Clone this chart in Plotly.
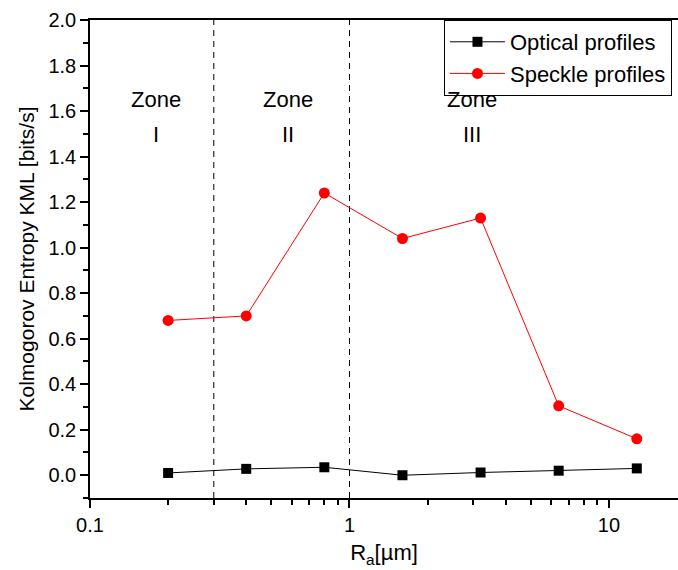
import math
import plotly.graph_objects as go

# Roughness values (µm) and Kolmogorov entropy for each profile type
ra_um = [0.2, 0.4, 0.8, 1.6, 3.2, 6.4, 12.8]
optical_kml = [0.01, 0.028, 0.035, 0.0, 0.012, 0.02, 0.03]
speckle_kml = [0.68, 0.70, 1.24, 1.04, 1.13, 0.305, 0.16]

# Zone boundaries (µm)
zone_bounds = [0.3, 1.0]
zone_names = ["I", "II", "III"]
zone_centers = [0.179, 0.582, 2.97]

y_ticks = [round(0.2 * i, 1) for i in range(11)]
x_ticks = [0.1, 1, 10]
x_ticktext = ["0.1", "1", "10"]

FONT = "Liberation Sans, Arial, sans-serif"

fig = go.Figure()

for xb in zone_bounds:
    fig.add_trace(go.Scatter(
        x=[xb, xb], y=[-0.1, 2.0], mode="lines",
        line=dict(color="black", width=1, dash="6px,5px"),
        showlegend=False, hoverinfo="skip",
    ))

fig.add_trace(go.Scatter(
    x=ra_um, y=optical_kml, mode="lines+markers", name="Optical profiles",
    line=dict(color="black", width=1),
    marker=dict(symbol="square", size=10, color="black"),
))
fig.add_trace(go.Scatter(
    x=ra_um, y=speckle_kml, mode="lines+markers", name="Speckle profiles",
    line=dict(color="red", width=1),
    marker=dict(symbol="circle", size=11, color="red"),
))

# Minor tick positions on the log axis
x_minor = [m * 10 ** e for e in (-1, 0, 1) for m in range(2, 10) if m * 10 ** e < 18.6]
y_minor = [round(0.1 + 0.2 * i, 1) for i in range(-1, 10)]

annotations = []
for name, xc in zip(zone_names, zone_centers):
    annotations.append(dict(x=math.log10(xc), y=1.651, xref="x", yref="y",
                            text="Zone", showarrow=False,
                            font=dict(family=FONT, size=22, color="black")))
    annotations.append(dict(x=math.log10(xc), y=1.497, xref="x", yref="y",
                            text=name, showarrow=False,
                            font=dict(family=FONT, size=22, color="black")))

fig.update_layout(
    width=678, height=570,
    margin=dict(l=90, r=0, t=20, b=72),
    paper_bgcolor="white", plot_bgcolor="white",
    font=dict(family=FONT, size=20, color="black"),
    showlegend=True,
    legend=dict(
        x=0.602, y=1.0, xanchor="left", yanchor="top",
        bordercolor="black", borderwidth=1, bgcolor="white",
        font=dict(family=FONT, size=22, color="black"),
        tracegroupgap=0, itemwidth=55,
    ),
    annotations=annotations,
    xaxis=dict(
        type="log", range=[-1, 1.266],
        tickvals=x_ticks, ticktext=x_ticktext,
        ticks="outside", ticklen=8, tickwidth=1.5, tickcolor="black",
        minor=dict(tickvals=x_minor, ticks="outside", ticklen=5,
                   tickwidth=1.5, tickcolor="black", showgrid=False),
        showline=True, linecolor="black", linewidth=1.5, mirror=True,
        showgrid=False, zeroline=False,
        tickfont=dict(family=FONT, size=20),
        title=dict(text="R<sub>a</sub>[µm]", standoff=10,
                   font=dict(family=FONT, size=22)),
    ),
    yaxis=dict(
        range=[-0.1, 2.0],
        tickvals=y_ticks, tickformat=".1f",
        ticks="outside", ticklen=8, tickwidth=1.5, tickcolor="black",
        minor=dict(tickvals=y_minor, ticks="outside", ticklen=5,
                   tickwidth=1.5, tickcolor="black", showgrid=False),
        showline=True, linecolor="black", linewidth=1.5, mirror=False,
        showgrid=False, zeroline=False,
        tickfont=dict(family=FONT, size=20),
        title=dict(text="Kolmogorov Entropy KML [bits/s]", standoff=8,
                   font=dict(family=FONT, size=21)),
    ),
)

fig.write_html("out.html")
